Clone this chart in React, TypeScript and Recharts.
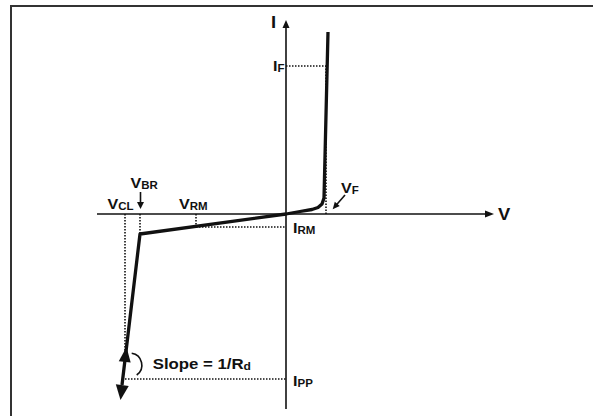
import React from "react";
import { ComposedChart, Line, XAxis, YAxis, ReferenceLine, ReferenceDot } from "recharts";

// ---- data (arbitrary V / I units of the schematic) ----
const V_F = 4.0;
const I_F = 14.8;
const V_RM = -9.0;
const I_RM = -1.3;
const V_BR = -14.6;
const I_BR = -2.0;
const V_CL = -16.1;
const I_CL = -14.6;
const I_PP = -16.5;

const curveV = [-16.4, -14.6, 0, 1.4, 2.6, 3.2, 3.6, 3.8, 4.2];
const curveI = [-17.1, -2.0, 0, 0.25, 0.45, 0.65, 1.0, 1.6, 18.2];
const curve = curveV.map((v, i) => ({ V: v, I: curveI[i] }));

const V_AXIS_MIN = -18.9;
const V_AXIS_MAX = 20.8;
const I_AXIS_MIN = -19.5;
const I_AXIS_MAX = 19.4;

const SLOPE_UP = { V: -15.95, I: -13.3 };
const SLOPE_DOWN = { V: -16.55, I: -18.6 };

const X_DOMAIN = [-28.6, 30.7];
const Y_DOMAIN = [-20.2, 21.4];

// ---- styles ----
const INK = "#111";
const FONT = "'Liberation Sans', Arial, Helvetica, sans-serif";
const STRETCH = 1.15;

const TextMark = (props: any) => {
  const { cx, cy, dx, dy, main, sub, size = 14, subSize = 10 } = props;
  return (
    <text
      transform={`translate(${cx + dx},${cy + dy}) scale(${STRETCH},1)`}
      fontFamily={FONT}
      fontWeight="bold"
      fontSize={size}
      fill={INK}
    >
      <tspan>{main}</tspan>
      {sub ? (
        <tspan fontSize={subSize} dy={1}>
          {sub}
        </tspan>
      ) : null}
    </text>
  );
};

const Head = (props: any) => {
  const { cx, cy, angle, len, wid } = props;
  return (
    <polygon
      points={`0,0 ${-wid / 2},${len} ${wid / 2},${len}`}
      transform={`translate(${cx},${cy}) rotate(${angle})`}
      fill={INK}
    />
  );
};

const label = (main: string, sub: string, dx: number, dy: number, size = 14, subSize = 10) => (p: any) => (
  <TextMark cx={p.cx} cy={p.cy} dx={dx} dy={dy} main={main} sub={sub} size={size} subSize={subSize} />
);

const head = (angle: number, len: number, wid: number) => (p: any) => (
  <Head cx={p.cx} cy={p.cy} angle={angle} len={len} wid={wid} />
);

const vfArrow = (p: any) => (
  <g>
    <line x1={p.cx + 19} y1={p.cy - 19} x2={p.cx + 9} y2={p.cy - 7.5} stroke={INK} strokeWidth={1.6} />
    <Head cx={p.cx + 6.7} cy={p.cy - 4.7} angle={220.7} len={7} wid={6.5} />
  </g>
);

const vbrArrow = (p: any) => (
  <g>
    <line x1={p.cx + 0.5} y1={p.cy - 22} x2={p.cx + 0.5} y2={p.cy - 10} stroke={INK} strokeWidth={1.6} />
    <Head cx={p.cx + 0.5} cy={p.cy - 5} angle={180} len={7} wid={7} />
  </g>
);

const slopeArc = (p: any) => {
  const x = p.cx + 9;
  const y = p.cy - 15;
  return (
    <g>
      <path
        d={`M ${x - 2.3} ${y - 10.7} A 12 12 0 0 1 ${x + 2.7} ${y + 11}`}
        fill="none"
        stroke={INK}
        strokeWidth={1.6}
      />
      <TextMark cx={p.cx} cy={p.cy} dx={27.7} dy={-10.5} main="Slope = 1/R" sub="d" size={14.6} subSize={10.5} />
    </g>
  );
};

const dotted = { stroke: INK, strokeWidth: 1.6, strokeDasharray: "1.5 1.5" };

export default function App() {
  return (
    <div style={{ position: "absolute", left: 0, top: 0, width: 593, height: 416, background: "#fff" }}>
      <div
        style={{
          position: "absolute",
          left: 10,
          top: 5,
          width: 583,
          height: 411,
          borderTop: "2px solid #333",
          borderLeft: "2px solid #333",
          boxSizing: "border-box",
        }}
      />
      <div style={{ position: "absolute", left: 0, top: 0 }}>
        <ComposedChart width={593} height={416} data={curve} margin={{ top: 0, right: 0, bottom: 0, left: 0 }}>
          <XAxis dataKey="V" type="number" domain={X_DOMAIN} hide allowDataOverflow />
          <YAxis type="number" domain={Y_DOMAIN} hide allowDataOverflow />

          {/* axes */}
          <ReferenceLine segment={[{ x: V_AXIS_MIN, y: 0 }, { x: V_AXIS_MAX - 0.6, y: 0 }]} stroke={INK} strokeWidth={1.6} ifOverflow="visible" />
          <ReferenceLine segment={[{ x: 0, y: I_AXIS_MIN }, { x: 0, y: I_AXIS_MAX - 0.5 }]} stroke={INK} strokeWidth={1.6} ifOverflow="visible" />
          <ReferenceDot x={V_AXIS_MAX} y={0} shape={head(90, 9, 7)} ifOverflow="visible" />
          <ReferenceDot x={0} y={I_AXIS_MAX} shape={head(0, 8, 7)} ifOverflow="visible" />

          {/* dotted guides */}
          <ReferenceLine segment={[{ x: 0, y: I_F }, { x: V_F, y: I_F }]} {...dotted} ifOverflow="visible" />
          <ReferenceLine segment={[{ x: V_F, y: 0 }, { x: V_F, y: I_F }]} {...dotted} ifOverflow="visible" />
          <ReferenceLine segment={[{ x: V_RM, y: 0 }, { x: V_RM, y: I_RM }]} {...dotted} ifOverflow="visible" />
          <ReferenceLine segment={[{ x: V_RM, y: I_RM }, { x: 0, y: I_RM }]} {...dotted} ifOverflow="visible" />
          <ReferenceLine segment={[{ x: V_BR, y: 0 }, { x: V_BR, y: I_BR }]} {...dotted} ifOverflow="visible" />
          <ReferenceLine segment={[{ x: V_CL, y: 0 }, { x: V_CL, y: I_CL }]} {...dotted} ifOverflow="visible" />
          <ReferenceLine segment={[{ x: V_CL, y: I_PP }, { x: 0, y: I_PP }]} {...dotted} ifOverflow="visible" />

          {/* characteristic */}
          <Line dataKey="I" type="linear" stroke={INK} strokeWidth={3.3} dot={false} activeDot={false} isAnimationActive={false} strokeLinejoin="round" />
          <ReferenceDot x={SLOPE_UP.V} y={SLOPE_UP.I} shape={head(6.8, 15, 12)} ifOverflow="visible" />
          <ReferenceDot x={SLOPE_DOWN.V} y={SLOPE_DOWN.I} shape={head(186.8, 15, 13)} ifOverflow="visible" />

          {/* labels */}
          <ReferenceDot x={0} y={I_AXIS_MAX} shape={label("I", "", -15, 8, 16)} ifOverflow="visible" />
          <ReferenceDot x={V_AXIS_MAX} y={0} shape={label("V", "", 4, 6, 16)} ifOverflow="visible" />
          <ReferenceDot x={0} y={I_F} shape={label("I", "F", -13, 4.5)} ifOverflow="visible" />
          <ReferenceDot x={V_F} y={0} shape={label("V", "F", 15, -21)} ifOverflow="visible" />
          <ReferenceDot x={V_F} y={0} shape={vfArrow} ifOverflow="visible" />
          <ReferenceDot x={V_BR} y={0} shape={label("V", "BR", -9.5, -26)} ifOverflow="visible" />
          <ReferenceDot x={V_BR} y={0} shape={vbrArrow} ifOverflow="visible" />
          <ReferenceDot x={V_CL} y={0} shape={label("V", "CL", -17.5, -5)} ifOverflow="visible" />
          <ReferenceDot x={V_RM} y={0} shape={label("V", "RM", -17, -5.5)} ifOverflow="visible" />
          <ReferenceDot x={0} y={I_RM} shape={label("I", "RM", 7, 6)} ifOverflow="visible" />
          <ReferenceDot x={0} y={I_PP} shape={label("I", "PP", 7, 7)} ifOverflow="visible" />
          <ReferenceDot x={V_CL} y={I_PP} shape={slopeArc} ifOverflow="visible" />
        </ComposedChart>
      </div>
    </div>
  );
}
